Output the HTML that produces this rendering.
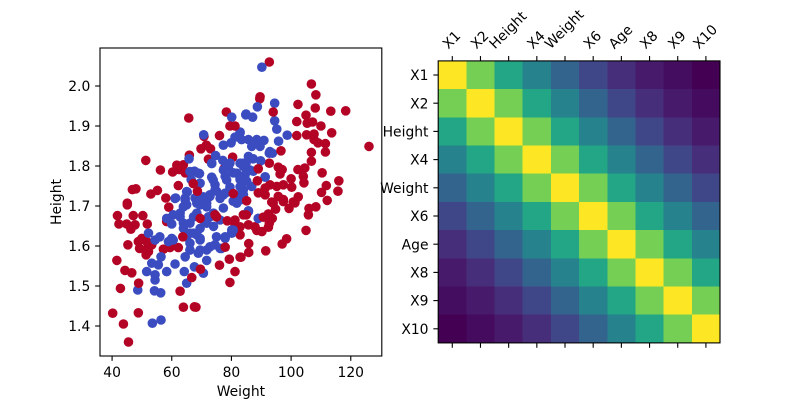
<!DOCTYPE html>
<html lang="en">
<head>
<meta charset="utf-8">
<title>Weight and height scatter with correlation heatmap</title>
<style>
html,body{margin:0;padding:0;background:#fff;}
svg{display:block;font-family:"DejaVu Sans","Liberation Sans",sans-serif;}
text{fill:#000;font-size:13.89px;}
</style>
</head>
<body>
<svg id="figure" width="800" height="400" viewBox="0 0 800 400" xmlns="http://www.w3.org/2000/svg"></svg>
<script>
const xTicks = [40, 60, 80, 100, 120];
const yTicks = [1.4, 1.5, 1.6, 1.7, 1.8, 1.9, 2.0];
const variables = ["X1", "X2", "Height", "X4", "Weight", "X6", "Age", "X8", "X9", "X10"];

const redWeights = [
  78.3,65.7,70.8,76,69.8,71.6,73,65.9,72.3,80.4,51.3,56.2,
  61.7,63.9,60.3,62.5,64.5,62.2,46.8,48,53,55.2,58,45.1,
  77.5,92.7,89.5,89.6,106.8,108.3,102.3,108.1,113.3,118.3,105,101.9,
  105.4,107.2,110,101.9,105.2,107.7,113.6,107.7,109,111.5,126.1,
  106.8,111.5,106.8,92.7,95.7,97,102.3,104.6,110.4,104.1,96.3,100,
  104.3,116,111.8,110.2,115.7,92.9,91.3,97.4,95.2,100.2,89,91.3,
  102.4,95.7,93.5,97.4,100.7,112.1,
  45.1,59,41.8,47.1,50.3,42.3,44.9,47.7,46.3,51.8,58.3,45.3,
  50,48.8,51.6,53.3,49.2,51.1,52.2,51.4,57.2,60,62.2,59.4,
  41.6,44.3,46.6,42.8,76,79.3,82.9,81.2,79.5,63.9,67.6,68.1,
  40.2,48.8,43.8,45.5,84,81.2,82.9,81.2,
  94,97.4,101.3,99.3,94.8,108.3,106,105.8,92.4,93.7,92.7,92.4,
  90.2,87.9,85.7,82.9,88.5,105,98.5,97,91.5,85.8,85.8,83.2
];
const redHeights = [
  1.935,1.92,1.874,1.876,1.843,1.852,1.843,1.827,1.817,1.822,1.814,1.79,
  1.802,1.803,1.785,1.791,1.783,1.751,1.741,1.743,1.73,1.739,1.72,1.707,
  1.793,2.06,1.968,1.973,2.005,1.978,1.954,1.945,1.937,1.938,1.927,1.911,
  1.907,1.91,1.90,1.876,1.878,1.88,1.883,1.866,1.858,1.856,1.849,
  1.834,1.835,1.812,1.807,1.797,1.791,1.791,1.795,1.783,1.774,1.78,1.768,
  1.758,1.763,1.751,1.734,1.737,1.753,1.745,1.753,1.749,1.747,1.733,1.728,
  1.723,1.724,1.71,1.716,1.71,1.714,
  1.703,1.697,1.676,1.676,1.676,1.655,1.655,1.653,1.642,1.655,1.661,1.603,
  1.619,1.611,1.611,1.603,1.594,1.59,1.586,1.578,1.592,1.611,1.596,1.596,
  1.564,1.539,1.533,1.494,1.552,1.567,1.572,1.536,1.509,1.447,1.448,1.447,
  1.432,1.433,1.405,1.36,1.678,1.665,1.628,1.653,
  1.707,1.711,1.708,1.694,1.692,1.698,1.694,1.678,1.68,1.669,1.657,1.647,
  1.636,1.648,1.653,1.648,1.639,1.639,1.618,1.605,1.588,1.606,1.584,1.572
];

const blueWeights = [
  80.1,84.8,82.9,81.2,70.7,77.3,79.9,74.7,73.4,77.1,65.8,67.6,69.3,
  66.5,69.3,73.4,74.5,77.9,65.2,61.3,79.5,79,80.6,82.9,84,78.4,
  75,77.3,80.6,72.8,67.8,64.5,70.6,84,
  90.2,94.5,88.7,84.9,87.1,94.5,95.2,98.7,95.8,82.9,85.7,88.5,90.9,86.8,89.6,83.4,
  92.7,93.7,85.7,87.3,89.8,84.9,82.9,87.3,84.6,82.9,85.1,86.8,91.3,84,82.9,83.4,
  52.2,54.4,56,58.9,60,58.3,62.8,60,65,68.4,
  71.7,77.3,72.3,67.3,63.9,69.5,74,68.4,66.1,75,64.5,66.1,71.7,74.5,76.7,69.5,80.6,80.1,77.9,81.8,
  69.5,66.1,70.6,74,
  56.4,53.3,55.5,58.3,51.6,54.4,61.1,64.2,67.6,71.7,70.6,65,48.6,54.2,56.3,56.4,53.5,54.4,
  85.7,89,
  66.1,68.9,73.4,73.9,74.5,65,61.1,64.5,69.5,70.6,72.8,77.3,79.5,81.8,84,86.2,
  78.4,82.9,84,81.2,77.9,76.2,63.9,69.5,71.7,72.8,68.4,62.8,60.5,66.1,71.7,76.2,
  80.1,77.9,65,67.3,69.5,72.8,76.2,66.1,68.9,60.5,85.7,91.3,92.9,89,63.9
];
const blueHeights = [
  1.922,1.928,1.885,1.872,1.878,1.852,1.858,1.826,1.806,1.814,1.818,1.787,1.781,
  1.766,1.756,1.772,1.753,1.774,1.735,1.72,1.747,1.795,1.783,1.766,1.799,1.803,
  1.737,1.728,1.712,1.724,1.72,1.72,1.716,1.728,
  2.047,1.957,1.948,1.93,1.922,1.913,1.892,1.877,1.862,1.883,1.866,1.866,1.864,1.849,1.849,1.866,
  1.832,1.832,1.824,1.818,1.813,1.807,1.807,1.787,1.778,1.77,1.762,1.749,1.772,1.741,1.728,1.716,
  1.632,1.615,1.623,1.611,1.619,1.669,1.682,1.655,1.703,1.707,
  1.707,1.695,1.673,1.673,1.657,1.644,1.649,1.628,1.607,1.623,1.573,1.59,1.59,1.603,1.594,1.59,1.64,1.632,1.623,1.707,
  1.619,1.632,1.665,1.682,
  1.573,1.557,1.553,1.536,1.536,1.515,1.555,1.536,1.548,1.564,1.532,1.507,1.49,1.488,1.483,1.415,1.407,1.528,
  1.688,1.669,
  1.786,1.782,1.807,1.765,1.74,1.736,1.719,1.715,1.757,1.723,1.728,1.79,1.807,1.782,1.807,1.79,
  1.765,1.748,1.728,1.715,1.732,1.719,1.698,1.703,1.698,1.673,1.682,1.673,1.678,1.657,1.657,1.665,
  1.64,1.619,1.623,1.632,1.615,1.598,1.594,1.59,1.582,1.615,1.686,1.773,1.836,1.669,1.644
];

const topRedWeights = [
  79.5,81.2,94,96.6,89,88.7,85.1,67.2,68.6,80.6,48.9,62.8,66.7,69.6,
  63.7,75,78.6,69.5,77.9,85,90.7,92.4,74.5
];
const topRedHeights = [
  1.90,1.90,1.935,1.838,1.793,1.763,1.713,1.756,1.737,1.731,1.507,1.487,1.521,1.542,
  1.623,1.673,1.663,1.669,1.597,1.678,1.672,1.68,1.678
];

const correlationRows = [
  [1.00,0.79,0.59,0.44,0.32,0.21,0.13,0.07,0.035,0.00],
  [0.79,1.00,0.79,0.59,0.44,0.32,0.21,0.13,0.07,0.03],
  [0.59,0.79,1.00,0.79,0.59,0.44,0.32,0.21,0.13,0.07],
  [0.44,0.59,0.79,1.00,0.79,0.59,0.44,0.32,0.21,0.13],
  [0.32,0.44,0.59,0.79,1.00,0.79,0.59,0.44,0.32,0.21],
  [0.21,0.32,0.44,0.59,0.79,1.00,0.79,0.59,0.44,0.32],
  [0.13,0.21,0.32,0.44,0.59,0.79,1.00,0.79,0.59,0.44],
  [0.07,0.13,0.21,0.32,0.44,0.59,0.79,1.00,0.79,0.59],
  [0.035,0.07,0.13,0.21,0.32,0.44,0.59,0.79,1.00,0.79],
  [0.00,0.03,0.07,0.13,0.21,0.32,0.44,0.59,0.79,1.00]
];

const NS = "http://www.w3.org/2000/svg";
const svg = document.getElementById("figure");
const RED = "#b40426";
const BLUE = "#3b4cc0";
const RADIUS = 4.8;
const STROKE = 1.11;
const TICK = 4.86;
const scatterBox = {left: 100, right: 381.8, top: 48, bottom: 356};
const heatBox = {left: 438.2, right: 720, top: 60.9, bottom: 342.9};
const xDomain = [35.95, 130.4];
const yDomain = [1.325, 2.095];
const viridisStops = ["#440154","#482475","#414487","#355f8d","#2a788e","#21918c","#22a884","#44bf70","#7ad151","#bddf26","#fde725"];

function make(tag, attrs, parent, text) {
  const el = document.createElementNS(NS, tag);
  for (const key in attrs) el.setAttribute(key, attrs[key]);
  if (text !== undefined) el.textContent = text;
  parent.appendChild(el);
  return el;
}
function xScale(v) {
  return scatterBox.left + (v - xDomain[0]) / (xDomain[1] - xDomain[0]) * (scatterBox.right - scatterBox.left);
}
function yScale(v) {
  return scatterBox.bottom - (v - yDomain[0]) / (yDomain[1] - yDomain[0]) * (scatterBox.bottom - scatterBox.top);
}
function cellWidth() {
  return (heatBox.right - heatBox.left) / variables.length;
}
function cellHeight() {
  return (heatBox.bottom - heatBox.top) / variables.length;
}
function heatX(i) {
  return heatBox.left + i * cellWidth();
}
function heatY(i) {
  return heatBox.top + i * cellHeight();
}
function hexChannel(hex, offset) {
  return parseInt(hex.substr(offset, 2), 16);
}
function viridis(value) {
  const t = Math.max(0, Math.min(1, value)) * (viridisStops.length - 1);
  const lo = Math.min(Math.floor(t), viridisStops.length - 2);
  const f = t - lo;
  const a = viridisStops[lo];
  const b = viridisStops[lo + 1];
  const mix = function (offset) {
    return Math.round(hexChannel(a, offset) * (1 - f) + hexChannel(b, offset) * f);
  };
  return "rgb(" + mix(1) + "," + mix(3) + "," + mix(5) + ")";
}

const background = make("rect", {x: 0, y: 0, width: 800, height: 400, fill: "#fff"}, svg);



const scatterGroup = make("g", {}, svg);



const pointsGroup = make("g", {}, scatterGroup);



function drawPoints(weights, heights, colour, name) {
  const count = Math.min(weights.length, heights.length);
  for (let i = 0; i < count; i++) {
    const point = make("circle", {cx: xScale(weights[i]), cy: yScale(heights[i]), r: RADIUS, fill: colour}, pointsGroup);
    
    
  }
}
drawPoints(redWeights, redHeights, RED, 'red-point');
drawPoints(blueWeights, blueHeights, BLUE, 'blue-point');
drawPoints(topRedWeights, topRedHeights, RED, 'red-point');

const scatterFrame = make("rect", {
  x: scatterBox.left, y: scatterBox.top,
  width: scatterBox.right - scatterBox.left, height: scatterBox.bottom - scatterBox.top,
  fill: "none", stroke: "#000", "stroke-width": STROKE
}, scatterGroup);



xTicks.forEach(function (tick) {
  const x = xScale(tick);
  const mark = make("line", {x1: x, x2: x, y1: scatterBox.bottom, y2: scatterBox.bottom + TICK, stroke: "#000", "stroke-width": STROKE}, scatterGroup);
  
  
  const label = make("text", {x: x, y: 377, "text-anchor": "middle"}, scatterGroup, String(tick));
  
  
});

yTicks.forEach(function (tick) {
  const y = yScale(tick);
  const mark = make("line", {x1: scatterBox.left - TICK, x2: scatterBox.left, y1: y, y2: y, stroke: "#000", "stroke-width": STROKE}, scatterGroup);
  
  
  const label = make("text", {x: scatterBox.left - 9.7, y: y + 5.1, "text-anchor": "end"}, scatterGroup, tick.toFixed(1));
  
  
});

const xTitle = make("text", {x: (scatterBox.left + scatterBox.right) / 2, y: 396, "text-anchor": "middle"}, scatterGroup, "Weight");



const yTitle = make("text", {x: 0, y: 0, "text-anchor": "middle", transform: "translate(61 202) rotate(-90)"}, scatterGroup, "Height");



const heatGroup = make("g", {}, svg);



correlationRows.forEach(function (row, r) {
  row.forEach(function (value, c) {
    const cell = make("rect", {
      x: heatX(c), y: heatY(r),
      width: cellWidth() + 0.3, height: cellHeight() + 0.3,
      fill: viridis(value), "shape-rendering": "crispEdges"
    }, heatGroup);
    
    
  });
});

const heatFrame = make("rect", {
  x: heatBox.left, y: heatBox.top,
  width: heatBox.right - heatBox.left, height: heatBox.bottom - heatBox.top,
  fill: "none", stroke: "#000", "stroke-width": STROKE
}, heatGroup);



variables.forEach(function (name, i) {
  const cx = heatX(i + 0.5);
  const cy = heatY(i + 0.5);

  const topTick = make("line", {x1: cx, x2: cx, y1: heatBox.top - TICK, y2: heatBox.top, stroke: "#000", "stroke-width": STROKE}, heatGroup);
  
  

  const bottomTick = make("line", {x1: cx, x2: cx, y1: heatBox.bottom, y2: heatBox.bottom + TICK, stroke: "#000", "stroke-width": STROKE}, heatGroup);
  
  

  const leftTick = make("line", {x1: heatBox.left - TICK, x2: heatBox.left, y1: cy, y2: cy, stroke: "#000", "stroke-width": STROKE}, heatGroup);
  
  

  const rowLabel = make("text", {x: heatBox.left - 9.7, y: cy + 5.1, "text-anchor": "end"}, heatGroup, name);
  
  

  const columnLabel = make("text", {x: 0, y: 0, "text-anchor": "middle", dy: "0.36em"}, heatGroup, name);
  
  
  const length = columnLabel.getComputedTextLength();
  const extent = (length + 14) * Math.SQRT1_2;
  columnLabel.setAttribute("transform", "translate(" + (cx - 1) + " " + (51 - extent / 2) + ") rotate(-45)");
});
</script>
</body>
</html>
